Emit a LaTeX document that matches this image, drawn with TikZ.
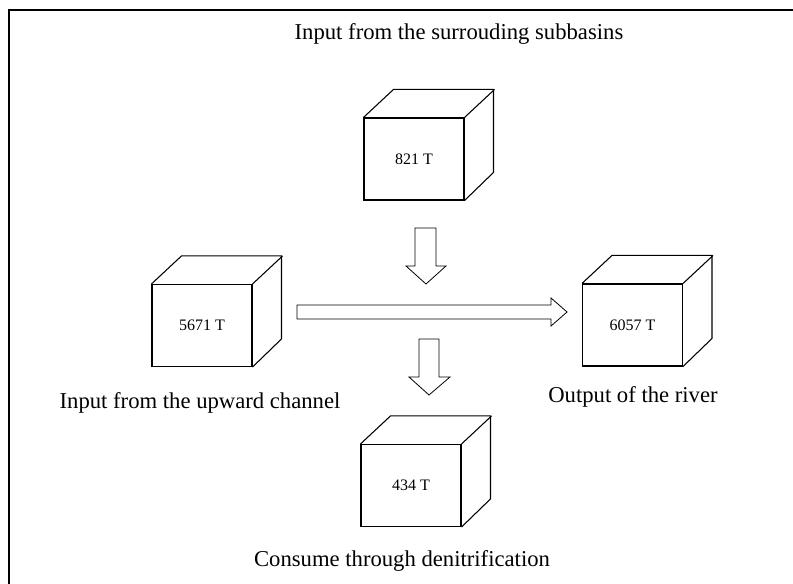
\documentclass[tikz,border=0pt]{standalone}
\usepackage{fontspec}
\setmainfont{Liberation Serif}

\tikzset{
  face/.style={draw,line width=0.8pt,minimum width=75pt,minimum height=61.5pt,inner sep=0pt,font=\fontsize{12}{14}\selectfont},
  edge/.style={line width=0.8pt},
  blockarrow/.style={line width=0.6pt,line join=miter},
  caption/.style={anchor=base,inner sep=0pt,font=\fontsize{17}{19}\selectfont}
}

\begin{document}
\begin{tikzpicture}[x=0.75pt,y=-0.75pt]
\useasboundingbox (0,0) rectangle (793,584);
\draw[line width=1.5pt] (9,584) -- (9,10) -- (793,10);
% cubes: front face as node, back edges drawn from its corners
\node[face] (up) at (414,159) {821 T};
\draw[edge] (up.north west) -- ++(30,-28) -- ++(100,0) -- ++(0,83) -- (up.south east);
\draw[edge] (up.north east) -- ++(30,-28);
\node[face] (left) at (202,325.5) {5671 T};
\draw[edge] (left.north west) -- ++(30,-28) -- ++(100,0) -- ++(0,83) -- (left.south east);
\draw[edge] (left.north east) -- ++(30,-28);
\node[face] (right) at (632.5,325) {6057 T};
\draw[edge] (right.north west) -- ++(30,-28) -- ++(100,0) -- ++(0,83) -- (right.south east);
\draw[edge] (right.north east) -- ++(30,-28);
\node[face] (down) at (411,485.5) {434 T};
\draw[edge] (down.north west) -- ++(30,-28) -- ++(100,0) -- ++(0,83) -- (down.south east);
\draw[edge] (down.north east) -- ++(30,-28);
% block arrows
\draw[blockarrow] (297,305) -- (551,305) -- (551,298) -- (567,312) -- (551,326) -- (551,319) -- (297,319) -- cycle;
\draw[blockarrow] (415,228) -- (436,228) -- (436,266) -- (446,266) -- (426,284) -- (406,266) -- (415,266) -- cycle;
\draw[blockarrow] (419,339) -- (439,339) -- (439,377) -- (450,377) -- (429,395) -- (409,377) -- (419,377) -- cycle;
% captions
\node[caption] (upcap) at (459,40) {Input from the surrouding subbasins};
\node[caption] (leftcap) at (200,408.5) {Input from the upward channel};
\node[caption] (rightcap) at (633,403) {Output of the river};
\node[caption] (downcap) at (402,566) {Consume through denitrification};
\end{tikzpicture}
\end{document}
